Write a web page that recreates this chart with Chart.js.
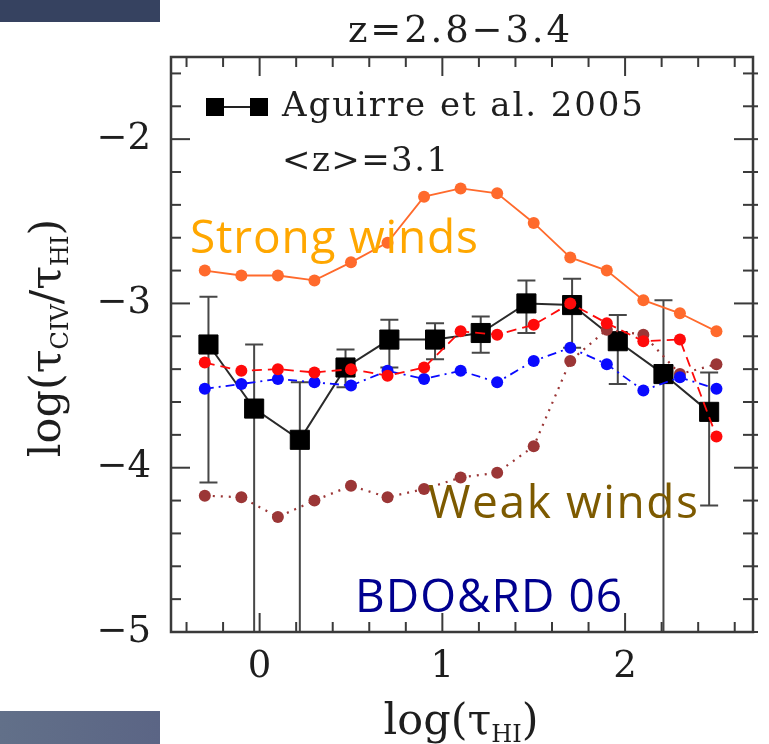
<!DOCTYPE html>
<html>
<head>
<meta charset="utf-8">
<script src="https://cdn.jsdelivr.net/npm/chart.js@4.4.1/dist/chart.umd.min.js"></script>
<style>
  body { margin: 0; background: #fff; }
  #wrap { position: relative; width: 769px; height: 744px; }
  .band-top { position: absolute; left: 0; top: 0; width: 160px; height: 22px; background: #364260; }
  .band-bottom { position: absolute; left: 0; top: 711px; width: 160px; height: 33px; background: linear-gradient(90deg, #627089, #5b6585); }
</style>
</head>
<body>
<div id="wrap">
  <canvas id="civChart" width="769" height="744"></canvas>
  <div class="band-top"></div>
  <div class="band-bottom"></div>
</div>
<script>
// log(tau_HI) bins of the simulated spectra
const modelX = [-0.3, -0.1, 0.1, 0.3, 0.5, 0.7, 0.9, 1.1, 1.3, 1.5, 1.7, 1.9, 2.1, 2.3, 2.5];
const strongWinds = [-2.80, -2.83, -2.83, -2.86, -2.75, -2.63, -2.35, -2.30, -2.33, -2.51, -2.72, -2.80, -2.98, -3.06, -3.17];
const midWinds    = [-3.36, -3.41, -3.40, -3.42, -3.40, -3.44, -3.39, -3.17, -3.19, -3.13, -3.00, -3.12, -3.23, -3.22, -3.81];
const bdoRd06     = [-3.52, -3.49, -3.46, -3.48, -3.50, -3.41, -3.46, -3.41, -3.48, -3.35, -3.27, -3.37, -3.53, -3.45, -3.52];
const weakWinds   = [-4.17, -4.18, -4.30, -4.20, -4.11, -4.18, -4.13, -4.06, -4.03, -3.87, -3.35, -3.16, -3.19, -3.43, -3.37];

// Aguirre et al. 2005 pixel optical depth points with error bars
const aguirreX  = [-0.28, -0.03, 0.22, 0.47, 0.71, 0.96, 1.21, 1.46, 1.71, 1.96, 2.21, 2.46];
const aguirreY  = [-3.25, -3.64, -3.83, -3.39, -3.22, -3.22, -3.18, -3.00, -3.01, -3.23, -3.43, -3.66];
const aguirreHi = [-2.96, -3.25, -3.48, -3.28, -3.10, -3.12, -3.08, -2.86, -2.85, -3.07, -2.98, -3.42];
const aguirreLo = [-4.09, -6.00, -6.00, -3.51, -3.39, -3.34, -3.30, -3.18, -3.27, -3.49, -6.00, -4.23];

const xTicks = [0, 1, 2];
const yTicks = [-5, -4, -3, -2];
const minorStep = 0.2;

const SERIF = "'DejaVu Serif', serif";
const SANS = "'Open Sans', sans-serif";
const INK = '#1e1e1e';

function series(label, ys, color, dash, width) {
  return {
    label: label,
    data: modelX.map((x, i) => ({ x: x, y: ys[i] })),
    showLine: true,
    borderColor: color,
    backgroundColor: color,
    pointBackgroundColor: color,
    pointBorderColor: color,
    pointBorderWidth: 0,
    pointRadius: 6,
    borderWidth: width,
    borderDash: dash,
    order: 0
  };
}

// draw a string stretched to a given width with letter spacing
function spacedText(ctx, text, x, y, width, font, color) {
  ctx.font = font;
  ctx.letterSpacing = '0px';
  const w = ctx.measureText(text).width;
  const sp = (width - w) / Math.max(text.length - 1, 1);
  ctx.letterSpacing = sp.toFixed(2) + 'px';
  ctx.fillStyle = color;
  ctx.textAlign = 'left';
  ctx.textBaseline = 'alphabetic';
  ctx.fillText(text, x, y);
  ctx.letterSpacing = '0px';
}

// text with subscripts, centred at (cx, base)
function subText(ctx, parts, cx, base) {
  let total = 0;
  parts.forEach(p => {
    ctx.font = p.size + 'px ' + SERIF;
    p.w = ctx.measureText(p.t).width;
    total += p.w;
  });
  let x = cx - total / 2;
  ctx.textAlign = 'left';
  ctx.textBaseline = 'alphabetic';
  ctx.fillStyle = INK;
  parts.forEach(p => {
    ctx.font = p.size + 'px ' + SERIF;
    ctx.fillText(p.t, x, base + (p.dy || 0));
    x += p.w;
  });
}

const errorBars = {
  id: 'errorBars',
  beforeDatasetsDraw(chart) {
    const { ctx, chartArea: a, scales: { x, y } } = chart;
    ctx.save();
    ctx.beginPath();
    ctx.rect(a.left, a.top, a.right - a.left, a.bottom - a.top);
    ctx.clip();
    ctx.strokeStyle = '#474747';
    ctx.lineWidth = 2;
    aguirreX.forEach((v, i) => {
      const px = x.getPixelForValue(v);
      const top = y.getPixelForValue(aguirreHi[i]);
      const bot = y.getPixelForValue(aguirreLo[i]);
      ctx.beginPath();
      ctx.moveTo(px, top); ctx.lineTo(px, bot);
      ctx.moveTo(px - 9, top); ctx.lineTo(px + 9, top);
      ctx.moveTo(px - 9, bot); ctx.lineTo(px + 9, bot);
      ctx.stroke();
    });
    ctx.restore();
  }
};

const frame = {
  id: 'frame',
  afterDatasetsDraw(chart) {
    const { ctx, chartArea: a, scales: { x, y } } = chart;
    ctx.save();
    ctx.strokeStyle = '#3a3a3a';
    ctx.lineWidth = 2;
    const seg = (x1, y1, x2, y2) => { ctx.beginPath(); ctx.moveTo(x1, y1); ctx.lineTo(x2, y2); ctx.stroke(); };
    for (let k = Math.ceil(x.min / minorStep); k * minorStep <= x.max; k++) {
      const px = x.getPixelForValue(k * minorStep);
      const len = k % 5 === 0 ? 19 : 10;
      seg(px, a.bottom, px, a.bottom - len);
      seg(px, a.top, px, a.top + len);
    }
    for (let k = Math.ceil(y.min / minorStep); k * minorStep <= y.max + 1e-9; k++) {
      const py = y.getPixelForValue(k * minorStep);
      const len = k % 5 === 0 ? 19 : 10;
      seg(a.left, py, a.left + len, py);
      seg(a.right + 5, py, a.right - len, py);
    }
    ctx.lineWidth = 2.5;
    ctx.strokeRect(a.left, a.top, a.right - a.left, a.bottom - a.top);
    ctx.restore();
  }
};

const labels = {
  id: 'labels',
  afterDraw(chart) {
    const { ctx } = chart;
    ctx.save();
    // panel title
    spacedText(ctx, 'z=2.8\u22123.4', 348, 42, 222, '37px ' + SERIF, INK);

    // legend entry
    ctx.strokeStyle = '#222';
    ctx.lineWidth = 2;
    ctx.beginPath(); ctx.moveTo(215, 107); ctx.lineTo(259, 107); ctx.stroke();
    ctx.fillStyle = '#000';
    ctx.fillRect(206, 98, 18, 18);
    ctx.fillRect(250, 98, 18, 18);
    spacedText(ctx, 'Aguirre et al. 2005', 282, 116, 361, '34px ' + SERIF, INK);
    spacedText(ctx, '<z>=3.1', 282, 171, 166, '34px ' + SERIF, INK);

    // model names
    spacedText(ctx, 'Strong winds', 190, 253, 288, '46px ' + SANS, '#ffa700');
    spacedText(ctx, 'Weak winds', 428, 518, 270, '46px ' + SANS, '#7d5a00');
    spacedText(ctx, 'BDO&RD 06', 355, 612, 267, '46px ' + SANS, '#00008f');

    // axis titles
    subText(ctx, [
      { t: 'log(\u03c4', size: 43 },
      { t: 'HI', size: 24, dy: 8 },
      { t: ')', size: 43 }
    ], 461, 734);

    ctx.translate(60, 338);
    ctx.rotate(-Math.PI / 2);
    subText(ctx, [
      { t: 'log(\u03c4', size: 43 },
      { t: 'CIV', size: 24, dy: 8 },
      { t: '/\u03c4', size: 43 },
      { t: 'HI', size: 24, dy: 8 },
      { t: ')', size: 43 }
    ], 0, 0);
    ctx.restore();
  }
};

new Chart('civChart', {
  type: 'scatter',
  data: {
    datasets: [
      series('Strong winds', strongWinds, '#ff6a2c', [], 1.8),
      series('Mid winds', midWinds, '#ff0a0a', [10, 6], 1.8),
      series('BDO&RD 06', bdoRd06, '#0a0aff', [9, 5, 2, 5], 1.8),
      series('Weak winds', weakWinds, '#9b3636', [2, 6], 2.2),
      {
        label: 'Aguirre et al. 2005',
        data: aguirreX.map((x, i) => ({ x: x, y: aguirreY[i] })),
        showLine: true,
        borderColor: '#2a2a2a',
        borderWidth: 2,
        pointStyle: 'rect',
        pointRadius: 13.5,
        pointBackgroundColor: '#000',
        pointBorderColor: '#000',
        pointBorderWidth: 1,
        order: 1
      }
    ]
  },
  options: {
    responsive: false,
    animation: false,
    layout: { padding: { left: 45, top: 57, right: 16, bottom: 0 } },
    plugins: { legend: { display: false }, tooltip: { enabled: false } },
    scales: {
      x: {
        type: 'linear',
        min: -0.485,
        max: 2.70,
        afterBuildTicks: s => { s.ticks = xTicks.map(v => ({ value: v })); },
        afterFit: s => { s.height = 112; },
        grid: { display: false, drawTicks: false },
        border: { display: false },
        ticks: { font: { family: SERIF, size: 37 }, color: INK, padding: 13, maxRotation: 0, autoSkip: false, callback: v => String(v) }
      },
      y: {
        type: 'linear',
        min: -5,
        max: -1.5,
        afterBuildTicks: s => { s.ticks = yTicks.map(v => ({ value: v })); },
        afterFit: s => { s.width = 126; },
        grid: { display: false, drawTicks: false },
        border: { display: false },
        ticks: { font: { family: SERIF, size: 37 }, color: INK, padding: 20, autoSkip: false, callback: v => '\u2212' + Math.abs(v) }
      }
    }
  },
  plugins: [errorBars, frame, labels]
});
</script>
</body>
</html>
